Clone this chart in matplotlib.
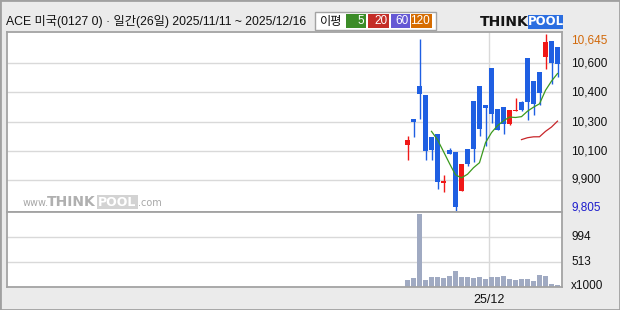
import numpy as np
import pandas as pd
import matplotlib
matplotlib.use('Agg')
import matplotlib.pyplot as plt
from matplotlib.patches import Rectangle
from matplotlib.transforms import blended_transform_factory

W, H = 620, 310

## daily candles, 2025/11/11 ~ 2025/12/16 (26 trading days)
dates = pd.bdate_range('2025-11-11', '2025-12-16')
opens = [10115, 10240, 10400, 10355, 10155, 10170, 9935, 10095, 10085, 9900,
         10100, 10325, 10400, 10305, 10485, 10290, 10300, 10215, 10280, 10320,
         10530, 10420, 10465, 10535, 10610, 10585]
highs = [10160, 10240, 10620, 10355, 10155, 10170, 9975, 10105, 10085, 10025,
         10100, 10325, 10400, 10305, 10485, 10290, 10300, 10285, 10340, 10325,
         10530, 10420, 10465, 10645, 10610, 10585]
lows = [10045, 10155, 10240, 10045, 10045, 9910, 9895, 10075, 9805, 9900,
        10015, 10035, 10160, 10110, 10220, 10190, 10170, 10210, 10280, 10280,
        10235, 10260, 10305, 10480, 10405, 10440]
closes = [10140, 10225, 10360, 10090, 10095, 9940, 9945, 10075, 9820, 10025,
          10025, 10100, 10195, 10295, 10265, 10190, 10215, 10285, 10285, 10285,
          10320, 10310, 10365, 10605, 10505, 10500]
volumes = [172, 217, 1442, 172, 236, 236, 217, 255, 351, 236, 236, 217, 236,
           197, 236, 236, 255, 197, 172, 197, 197, 153, 274, 255, 101, 82]  # x1000

price_grid = [10506, 10369, 10225, 10087, 9951]
price_grid_labels = ['10,600', '10,400', '10,300', '10,100', '9,900']
vol_grid = [994, 513]
vol_grid_labels = ['994', '513']

ma_periods = ['5', '20', '60', '120']
ma_colors = ['#3c8c28', '#c42d27', '#6558d4', '#d66c00']
header = 'ACE 미국(0127 0) · 일간(26일) 2025/11/11 ~ 2025/12/16'

UP = '#f01818'
DOWN = '#1f5fe2'
GRID = '#d9d9d9'
EDGE = '#a3a3a3'
LAB_FONT = ['Liberation Sans', 'DejaVu Sans']
KR_FONT = ['Liberation Sans', 'Noto Sans CJK KR']


def fx(x):
    return x / W


def fy(y):
    return 1 - y / H


fig = plt.figure(figsize=(6.2, 3.1), dpi=100, facecolor='#ebebeb')
ax = fig.add_axes([fx(7.3), fy(212.3), fx(562) - fx(7.3), fy(31.7) - fy(212.3)])
axv = fig.add_axes([fx(7.3), fy(287.3), fx(562) - fx(7.3), fy(212.3) - fy(287.3)])

x = np.arange(len(opens))
o, h, l, c = (np.array(v, dtype=float) for v in (opens, highs, lows, closes))
col = np.where(c >= o, UP, DOWN)

for a in (ax, axv):
    a.set_facecolor('white')
    a.set_xlim(-66.7, 25.75)
    a.set_xticks([])
    a.set_yticks([])
    for s in a.spines.values():
        s.set_color(EDGE)
        s.set_linewidth(1.3)

ax.set_ylim(9797, 10656)
axv.set_ylim(32, 1475)

## month boundary
month_idx = int(np.argmax(dates.month != dates.month[0]))
for a in (ax, axv):
    a.axvline(month_idx - 0.5, color=GRID, lw=1, zorder=0)
for p in price_grid:
    ax.axhline(p, color=GRID, lw=1, zorder=0)
for v in vol_grid:
    axv.axhline(v, color=GRID, lw=1, zorder=0)

## candles
ax.vlines(x, l, h, colors=col, lw=1.0, zorder=2)
ax.bar(x, np.maximum(np.abs(c - o), 4), bottom=np.minimum(o, c), width=0.82,
       color=col, linewidth=0, zorder=3)

## moving averages
cs = pd.Series(closes, dtype=float)
ax.plot(x, cs.rolling(5).mean(), color='#3b9a1e', lw=0.9, zorder=4)
ax.plot(x, cs.rolling(20).mean(), color='#c8262a', lw=0.9, zorder=4)

## volume
axv.bar(x, volumes, width=0.82, color='#a0aac2', linewidth=0, zorder=2)

## right labels
tr = blended_transform_factory(ax.transAxes, ax.transData)
lx = (571 - 7.3) / (562 - 7.3)
for p, t in zip(price_grid, price_grid_labels):
    ax.text(lx, p, t, transform=tr, va='center', ha='left', fontsize=8.5,
            family=LAB_FONT, color='#111111')
ax.text(lx, max(highs), f'{max(highs):,}', transform=tr, va='top', ha='left',
        fontsize=8.5, family=LAB_FONT, color='#d2690a')
ax.text(lx, min(lows), f'{min(lows):,}', transform=tr, va='baseline', ha='left',
        fontsize=8.5, family=LAB_FONT, color='#1c1ccc')
trv = blended_transform_factory(axv.transAxes, axv.transData)
for v, t in zip(vol_grid, vol_grid_labels):
    axv.text(lx, v, t, transform=trv, va='center', ha='left', fontsize=8.5,
             family=LAB_FONT, color='#111111')
axv.text(lx, 0.02, 'x1000', transform=axv.transAxes, va='center', ha='left',
         fontsize=8.5, family=LAB_FONT, color='#111111')
axv.text(month_idx - 0.5, -0.17, dates[month_idx].strftime('%y/%m'),
         transform=blended_transform_factory(axv.transData, axv.transAxes),
         ha='center', va='center', fontsize=9, family=LAB_FONT, color='#111111')

## header
fig.text(fx(6), fy(22), header, ha='left', va='center', fontsize=8.8,
         family=KR_FONT, color='#111111')
fig.add_artist(Rectangle((fx(315), fy(30)), fx(435.6) - fx(315), fy(12.3) - fy(30),
                         transform=fig.transFigure, fc='white', ec=EDGE, lw=1))
fig.text(fx(320), fy(21.5), '이평', ha='left', va='center', fontsize=8.8,
         family=KR_FONT, color='#111111')
box_x = [345.8, 367.6, 390.5, 411.0]
box_w = [19.8, 21.7, 19.4, 20.6]
for bx, bw, lab, cc in zip(box_x, box_w, ma_periods, ma_colors):
    fig.add_artist(Rectangle((fx(bx), fy(28.3)), bw / W, 14 / H,
                             transform=fig.transFigure, fc=cc, ec='none'))
    fig.text(fx(bx + bw - 1.5), fy(21.5), lab, ha='right', va='center',
             fontsize=8.5, family=LAB_FONT, color='white')

## logo
fig.text(fx(480), fy(21.5), 'THINK', ha='left', va='center', fontsize=10,
         fontweight='bold', family='DejaVu Sans', color='#151515')
fig.add_artist(Rectangle((fx(528), fy(28.5)), 35 / W, 13.5 / H,
                         transform=fig.transFigure, fc='#2b6ee0', ec='none'))
fig.text(fx(545.5), fy(21.5), 'POOL', ha='center', va='center', fontsize=8.5,
         fontweight='bold', family='DejaVu Sans', color='white')

## watermark
fig.text(fx(23), fy(206), 'www.', ha='left', va='baseline', fontsize=7,
         family='DejaVu Sans', color='#a8a8a8')
fig.text(fx(47), fy(202), 'THINK', ha='left', va='center', fontsize=10,
         fontweight='bold', family='DejaVu Sans', color='#b0b0b0')
fig.add_artist(Rectangle((fx(97), fy(209.3)), 41 / W, 14.3 / H,
                         transform=fig.transFigure, fc='#d3d3d3', ec='none'))
fig.text(fx(117.5), fy(202), 'POOL', ha='center', va='center', fontsize=9,
         fontweight='bold', family='DejaVu Sans', color='white')
fig.text(fx(138), fy(206), '.com', ha='left', va='baseline', fontsize=7,
         family='DejaVu Sans', color='#a8a8a8')

## outer frame
fig.add_artist(Rectangle((0, 0), 1, 1, transform=fig.transFigure, fill=False,
                         ec='#a0a0a0', lw=2))

fig.savefig('out.png', dpi=100, facecolor=fig.get_facecolor())
